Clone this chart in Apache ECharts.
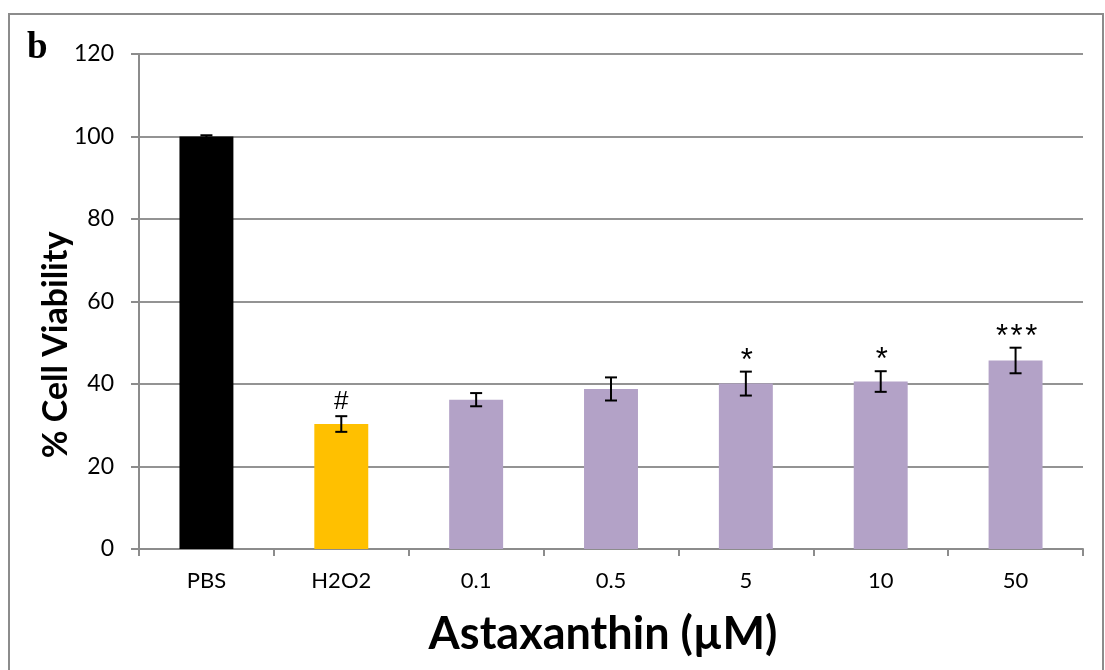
<!DOCTYPE html>
<html>
<head>
<meta charset="utf-8">
<script src="https://cdn.jsdelivr.net/npm/echarts@6/dist/echarts.min.js"></script>
<style>html,body{margin:0;padding:0;background:#fff;overflow:hidden}#c{width:1105px;height:670px}</style>
</head>
<body>
<div id="c"></div>
<script>
var categories = ['PBS', 'H2O2', '0.1', '0.5', '5', '10', '50'];
var values = [100, 30.3, 36.2, 38.8, 40.1, 40.6, 45.7];
var errors = [0.3, 1.9, 1.6, 2.8, 2.9, 2.5, 3.1];
var marks = ['', '#', '', '', '*', '*', '***'];
var barColors = ['#000000', '#FFC000', '#B3A2C7', '#B3A2C7', '#B3A2C7', '#B3A2C7', '#B3A2C7'];
var yTicks = [0, 20, 40, 60, 80, 100, 120];

var chart = echarts.init(document.getElementById('c'), null, {renderer: 'canvas', width: 1105, height: 670});
var font = 'Lato, "Open Sans", sans-serif';

var option = {
  animation: false,
  backgroundColor: '#fff',
  grid: {left: 139, top: 54, width: 944, height: 495, containLabel: false},
  xAxis: {
    type: 'category',
    data: categories,
    axisLine: {lineStyle: {color: '#8c8c8c', width: 2}},
    axisTick: {show: true, length: 7, alignWithLabel: false, lineStyle: {color: '#8c8c8c', width: 2}},
    axisLabel: {color: '#000', fontSize: 22, fontFamily: font, margin: 21}
  },
  yAxis: {
    type: 'value',
    min: 0, max: 120, interval: 20,
    axisLine: {show: true, lineStyle: {color: '#8c8c8c', width: 2}},
    axisTick: {show: true, length: 8, lineStyle: {color: '#8c8c8c', width: 2}},
    axisLabel: {color: '#000', fontSize: 23, fontFamily: font, margin: 25,
      formatter: function (v) { return yTicks.indexOf(v) >= 0 ? String(v) : ''; }},
    splitLine: {lineStyle: {color: '#939393', width: 2}}
  },
  series: [
    {
      type: 'bar',
      barWidth: '40%',
      data: values.map(function (v, i) { return {value: v, itemStyle: {color: barColors[i]}}; }),
      z: 2
    },
    {
      type: 'custom',
      z: 5,
      data: values.map(function (v, i) { return [i, v, errors[i]]; }),
      renderItem: function (params, api) {
        var x = api.value(0);
        var v = api.value(1);
        var e = api.value(2);
        var m = marks[params.dataIndex];
        var top = api.coord([x, v + e]);
        var bot = api.coord([x, v - e]);
        var cap = 6;
        var lw = 2;
        var children = [
          {type: 'line', shape: {x1: top[0], y1: top[1], x2: bot[0], y2: bot[1]}, style: {stroke: '#000', lineWidth: lw}},
          {type: 'line', shape: {x1: top[0] - cap, y1: top[1], x2: top[0] + cap, y2: top[1]}, style: {stroke: '#000', lineWidth: lw}},
          {type: 'line', shape: {x1: bot[0] - cap, y1: bot[1], x2: bot[0] + cap, y2: bot[1]}, style: {stroke: '#000', lineWidth: lw}}
        ];
        if (m === '#') {
          children.push({type: 'text', style: {
            x: top[0], y: top[1] - 1, text: m,
            font: '26px "Liberation Sans", sans-serif',
            fill: '#000', align: 'center', verticalAlign: 'bottom'
          }});
        } else if (m) {
          children.push({type: 'text', style: {
            x: top[0] + 1, y: top[1] - 26, text: m.split('').join('\u200A'),
            font: '31px "Liberation Sans", sans-serif',
            fill: '#000', align: 'center', verticalAlign: 'top'
          }});
        }
        return {type: 'group', children: children};
      }
    }
  ],
  graphic: [
    {type: 'rect', shape: {x: 9, y: 14, width: 1094, height: 700}, style: {fill: 'none', stroke: '#8c8c8c', lineWidth: 2}, silent: true},
    {type: 'text', x: 27, y: 48, style: {text: 'b', font: 'bold 37px "Liberation Serif", serif', fill: '#000', verticalAlign: 'middle'}},
    {type: 'text', x: 56, y: 345, rotation: Math.PI / 2, style: {text: '% Cell Viability', font: 'bold 34px ' + font, fill: '#000', align: 'center', verticalAlign: 'middle'}},
    {type: 'text', x: 603, y: 634, style: {text: 'Astaxanthin (µM)', font: 'bold 45px ' + font, fill: '#000', align: 'center', verticalAlign: 'middle'}}
  ]
};
chart.setOption(option);
</script>
</body>
</html>
